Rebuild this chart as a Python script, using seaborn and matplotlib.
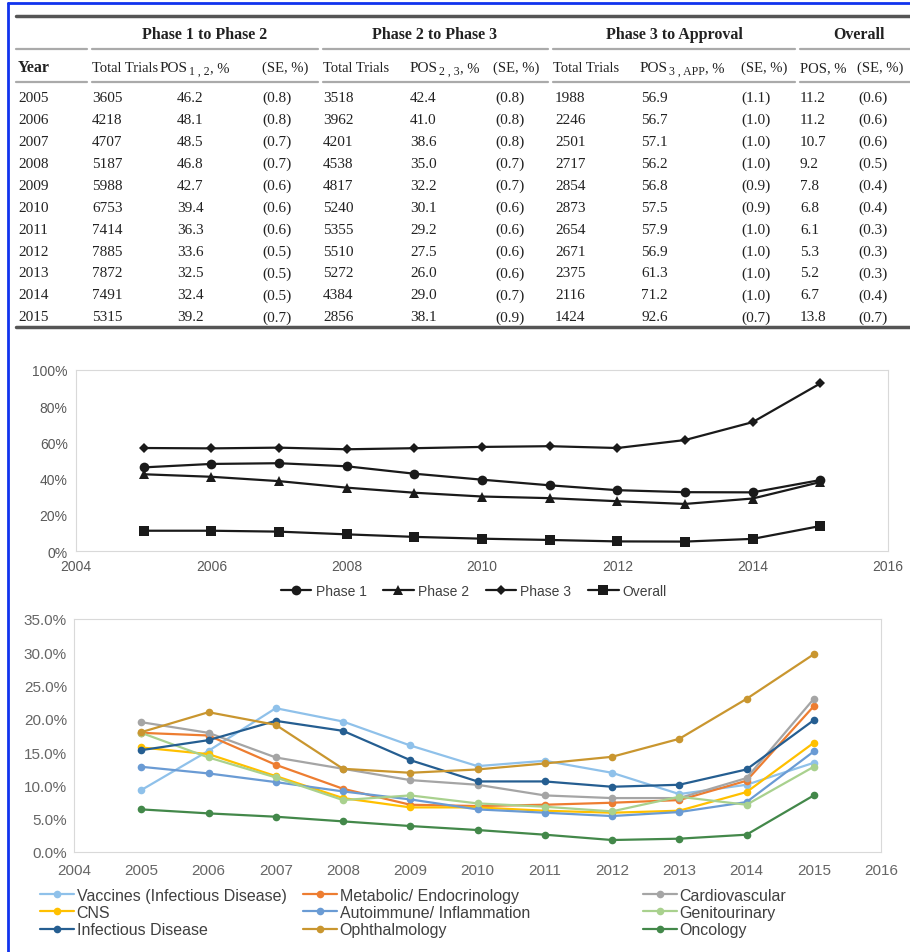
import matplotlib
matplotlib.use('Agg')
import matplotlib.pyplot as plt
import matplotlib.ticker as mticker
import numpy as np
import pandas as pd
import seaborn as sns

# ---- table data (Phase transition POS by year) ----
years = [2005, 2006, 2007, 2008, 2009, 2010, 2011, 2012, 2013, 2014, 2015]
trials_12 = [3605, 4218, 4707, 5187, 5988, 6753, 7414, 7885, 7872, 7491, 5315]
pos_12 = [46.2, 48.1, 48.5, 46.8, 42.7, 39.4, 36.3, 33.6, 32.5, 32.4, 39.2]
se_12 = [0.8, 0.8, 0.7, 0.7, 0.6, 0.6, 0.6, 0.5, 0.5, 0.5, 0.7]
trials_23 = [3518, 3962, 4201, 4538, 4817, 5240, 5355, 5510, 5272, 4384, 2856]
pos_23 = [42.4, 41.0, 38.6, 35.0, 32.2, 30.1, 29.2, 27.5, 26.0, 29.0, 38.1]
se_23 = [0.8, 0.8, 0.8, 0.7, 0.7, 0.6, 0.6, 0.6, 0.6, 0.7, 0.9]
trials_3a = [1988, 2246, 2501, 2717, 2854, 2873, 2654, 2671, 2375, 2116, 1424]
pos_3a = [56.9, 56.7, 57.1, 56.2, 56.8, 57.5, 57.9, 56.9, 61.3, 71.2, 92.6]
se_3a = [1.1, 1.0, 1.0, 1.0, 0.9, 0.9, 1.0, 1.0, 1.0, 1.0, 0.7]
pos_all = [11.2, 11.2, 10.7, 9.2, 7.8, 6.8, 6.1, 5.3, 5.2, 6.7, 13.8]
se_all = [0.6, 0.6, 0.6, 0.5, 0.4, 0.4, 0.3, 0.3, 0.3, 0.4, 0.7]

group_titles = ['Phase 1 to Phase 2', 'Phase 2 to Phase 3', 'Phase 3 to Approval', 'Overall']
plain_titles = ['Total Trials', '(SE, %)', 'Total Trials', '(SE, %)',
                'Total Trials', '(SE, %)', 'POS, %', '(SE, %)']
pos_subscripts = ['1 , 2', '2 , 3', '3 , APP']

# ---- therapeutic area POS (%) ----
ta_names = ['Vaccines (Infectious Disease)', 'Metabolic/ Endocrinology', 'Cardiovascular',
            'CNS', 'Autoimmune/ Inflammation', 'Genitourinary',
            'Infectious Disease', 'Ophthalmology', 'Oncology']
vaccines = [9.3, 15.2, 21.6, 19.6, 16.0, 12.9, 13.7, 11.9, 8.7, 10.1, 13.4]
metabolic = [17.9, 17.5, 13.1, 9.5, 7.1, 6.9, 7.1, 7.4, 7.8, 10.7, 21.9]
cardio = [19.5, 17.9, 14.2, 12.5, 10.8, 10.1, 8.5, 8.1, 8.1, 11.1, 23.0]
cns = [15.7, 14.7, 11.4, 8.1, 6.7, 6.7, 6.2, 5.9, 6.2, 9.0, 16.4]
autoimmune = [12.8, 11.8, 10.5, 9.1, 7.9, 6.4, 5.9, 5.4, 6.0, 7.5, 15.1]
genito = [17.9, 14.2, 11.2, 7.8, 8.5, 7.3, 6.8, 6.1, 8.3, 7.1, 12.8]
infectious = [15.3, 16.8, 19.7, 18.2, 13.8, 10.6, 10.6, 9.8, 10.1, 12.4, 19.8]
ophthalmology = [18.0, 21.0, 19.1, 12.5, 11.9, 12.4, 13.3, 14.3, 17.0, 23.0, 29.7]
oncology = [6.4, 5.8, 5.3, 4.6, 3.9, 3.3, 2.6, 1.8, 2.0, 2.6, 8.5]
ta_colors = ['#8FC1EA', '#ED7D31', '#A5A5A5', '#FFC000', '#6A9BD4',
             '#A9D18E', '#255E91', '#C9962F', '#43884A']

sns.set_style('white')
sans = ['Liberation Sans', 'DejaVu Sans']
serif = ['Liberation Serif', 'DejaVu Serif']
plt.rcParams['font.family'] = sans

W, H = 910, 953
fig = plt.figure(figsize=(W / 100, H / 100), dpi=100)
renderer = fig.canvas.get_renderer()

# ---------------- table (pixel coordinates) ----------------
tab = fig.add_axes([0, 0, 1, 1])
tab.set_xlim(0, W)
tab.set_ylim(H, 0)
tab.axis('off')
tab.patch.set_visible(False)

# blue selection border
tab.plot([8, 8], [4, H], color='#1133EE', lw=2)
tab.plot([8, W], [4, 4], color='#1133EE', lw=2)

rule = '#555555'
thin = '#AAAAAA'
ink = '#222222'
tab.plot([16, W], [17, 17], color=rule, lw=2.5)
tab.plot([16, W], [328, 328], color=rule, lw=2.5)
segs = [(16, 87), (92, 318), (323, 548), (553, 795), (800, W)]
for yy in (50, 83):
    for a, b in segs:
        tab.plot([a, b], [yy, yy], color=thin, lw=1.6)

gcent = [205, 435, 674, 859]
for t, cx in zip(group_titles, gcent):
    tab.text(cx, 39, t, ha='center', va='baseline', family=serif,
             fontsize=11.5, fontweight='bold', color=ink)

hy = 72
tab.text(18, hy, 'Year', ha='left', va='baseline', family=serif,
         fontsize=11.5, fontweight='bold', color=ink)
plain_x = [92, 262, 323, 493, 553, 741, 800, 857]
for t, xx in zip(plain_titles, plain_x):
    tab.text(xx, hy, t, ha='left', va='baseline', family=serif,
             fontsize=10.5, color=ink)


def text_width(t):
    # width of a text artist in data (= pixel) units
    bb = t.get_window_extent(renderer=renderer)
    return bb.width


# POS headers with subscripts, pieces chained left to right
pos_x = [160, 410, 640]
for sub, x0 in zip(pos_subscripts, pos_x):
    t0 = tab.text(x0, hy, 'POS', ha='left', va='baseline', family=serif,
                  fontsize=11, color=ink)
    x1 = x0 + text_width(t0) + 1
    t1 = tab.text(x1, hy + 3, sub, ha='left', va='baseline', family=serif,
                  fontsize=8.5, color=ink)
    x2 = x1 + text_width(t1)
    tab.text(x2, hy, ', %', ha='left', va='baseline', family=serif,
             fontsize=10.5, color=ink)

columns = [
    (18, [str(v) for v in years]),
    (92, [str(v) for v in trials_12]),
    (177, [f'{v:.1f}' for v in pos_12]),
    (262, [f'({v:.1f})' for v in se_12]),
    (323, [str(v) for v in trials_23]),
    (410, [f'{v:.1f}' for v in pos_23]),
    (495, [f'({v:.1f})' for v in se_23]),
    (555, [str(v) for v in trials_3a]),
    (641, [f'{v:.1f}' for v in pos_3a]),
    (741, [f'({v:.1f})' for v in se_3a]),
    (800, [f'{v:.1f}' for v in pos_all]),
    (858, [f'({v:.1f})' for v in se_all]),
]
for xx, vals in columns:
    for i, s in enumerate(vals):
        tab.text(xx, 98 + 22 * i, s, ha='left', va='center', family=serif,
                 fontsize=11, color=ink)

# ---------------- top chart: POS by phase ----------------
phase_df = pd.DataFrame({
    'year': years * 4,
    'value': pos_12 + pos_23 + pos_3a + pos_all,
    'series': ['Phase 1'] * 11 + ['Phase 2'] * 11 + ['Phase 3'] * 11 + ['Overall'] * 11,
})
ax1 = fig.add_axes([76 / W, 1 - 552 / H, (888 - 76) / W, (552 - 371) / H])
sns.lineplot(data=phase_df, x='year', y='value', hue='series', style='series',
             palette=['#1a1a1a'] * 4, dashes=False,
             markers={'Phase 1': 'o', 'Phase 2': '^', 'Phase 3': 'D', 'Overall': 's'},
             markersize=7, markeredgewidth=0, linewidth=1.6, ax=ax1)
ax1.set_xlim(2004, 2016)
ax1.set_ylim(0, 100)
ax1.set_xticks(range(2004, 2017, 2))
ax1.set_yticks(range(0, 101, 20))
ax1.yaxis.set_major_formatter(mticker.FuncFormatter(lambda v, p: f'{v:.0f}%'))
ax1.set_xlabel('')
ax1.set_ylabel('')
ax1.tick_params(length=0, labelsize=10, labelcolor='#595959', pad=6)
for s in ax1.spines.values():
    s.set_color('#D9D9D9')
h1, l1 = ax1.get_legend_handles_labels()
ax1.get_legend().remove()
for h in h1:
    if h.get_marker() == 'D':
        h.set_markersize(5)
for ln in ax1.lines:
    if ln.get_marker() == 'D':
        ln.set_markersize(5)
fig.legend(h1, l1, loc='center', bbox_to_anchor=(474 / W, 1 - 592 / H), ncol=4,
           frameon=False, fontsize=10, handlelength=2.2, handletextpad=0.3,
           columnspacing=1.2, labelcolor='#404040')

# ---------------- bottom chart: POS by therapeutic area ----------------
ta_values = [vaccines, metabolic, cardio, cns, autoimmune, genito,
             infectious, ophthalmology, oncology]
ta_df = pd.DataFrame({
    'year': years * len(ta_names),
    'value': sum(ta_values, []),
    'area': [n for n in ta_names for _ in years],
})
ax2 = fig.add_axes([74 / W, 1 - 853 / H, (881 - 74) / W, (853 - 620) / H])
sns.lineplot(data=ta_df, x='year', y='value', hue='area', hue_order=ta_names,
             palette=ta_colors, marker='o', markersize=5.5, markeredgewidth=0,
             linewidth=1.6, ax=ax2)
ax2.set_xlim(2004, 2016)
ax2.set_ylim(0, 35)
ax2.set_xticks(range(2004, 2017))
ax2.set_yticks(np.arange(0, 35.1, 5))
ax2.yaxis.set_major_formatter(mticker.FuncFormatter(lambda v, p: f'{v:.1f}%'))
ax2.set_xlabel('')
ax2.set_ylabel('')
ax2.tick_params(axis='x', length=4, color='#D9D9D9', labelsize=11,
                labelcolor='#666666', pad=4)
ax2.tick_params(axis='y', length=0, labelsize=11, labelcolor='#666666', pad=5)
for s in ax2.spines.values():
    s.set_color('#D9D9D9')
h2, l2 = ax2.get_legend_handles_labels()
ax2.get_legend().remove()

col_x = [40, 303, 643]
for c in range(3):
    idx = [c, c + 3, c + 6]
    fig.legend([h2[i] for i in idx], [l2[i] for i in idx], loc='upper left',
               bbox_to_anchor=(col_x[c] / W, 1 - 889 / H), frameon=False,
               fontsize=11.5, handlelength=2.1, handletextpad=0.2,
               labelspacing=0.13, borderpad=0, borderaxespad=0,
               labelcolor='#404040')

fig.savefig('out.png', dpi=100)
